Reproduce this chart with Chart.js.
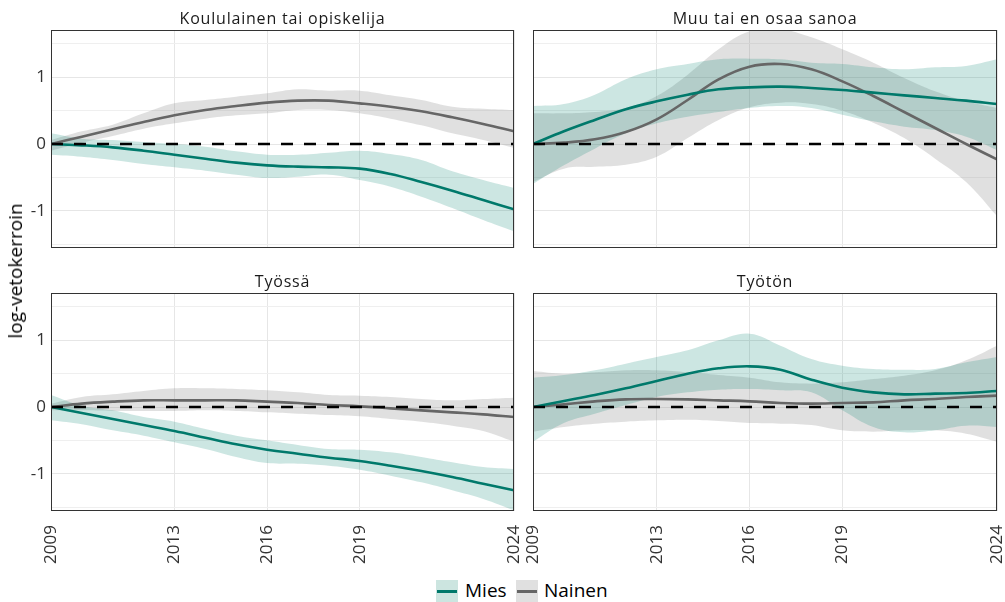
<!DOCTYPE html>
<html>
<head>
<meta charset="utf-8">
<script src="https://cdn.jsdelivr.net/npm/chart.js@4.4.1/dist/chart.umd.min.js"></script>
<style>
  body { margin: 0; background: #fff; overflow: hidden; font-family: 'Open Sans', sans-serif; }
  #wrap { position: relative; width: 1005px; height: 602px; }
  canvas { position: absolute; }
  .title { position: absolute; text-align: center; font-size: 16px; line-height: 20px; color: #1a1a1a; letter-spacing: 0.8px; }
  #ylab { position: absolute; left: 15px; top: 271px; transform: translate(-50%, -50%) rotate(-90deg); font-size: 19px; color: #000; white-space: nowrap; }
  .key { position: absolute; width: 22px; height: 22px; top: 580px; }
  .key span { position: absolute; left: 1px; right: 1px; top: 10px; height: 3px; }
  .ktext { position: absolute; top: 576px; font-size: 19px; line-height: 28px; color: #000; }
</style>
</head>
<body>
<div id="wrap">
  <canvas id="c1" width="520" height="262" style="left:0;top:0"></canvas>
  <canvas id="c2" width="495" height="262" style="left:520px;top:0"></canvas>
  <canvas id="c3" width="530" height="312" style="left:0;top:262px"></canvas>
  <canvas id="c4" width="495" height="312" style="left:520px;top:262px"></canvas>

  <div class="title" style="left:51px;width:463px;top:8px">Koululainen tai opiskelija</div>
  <div class="title" style="left:533px;width:464px;top:8px">Muu tai en osaa sanoa</div>
  <div class="title" style="left:51px;width:463px;top:271px">Työssä</div>
  <div class="title" style="left:533px;width:464px;top:271px">Työtön</div>
  <div id="ylab">log-vetokerroin</div>

  <div class="key" style="left:436px;background:#cce5e0"><span style="background:#00796b"></span></div>
  <div class="ktext" style="left:465px">Mies</div>
  <div class="key" style="left:516px;background:#e0e0e0"><span style="background:#666"></span></div>
  <div class="ktext" style="left:544px">Nainen</div>
</div>
<script>
const years = [2009,2010,2011,2012,2013,2014,2015,2016,2017,2018,2019,2020,2021,2022,2023,2024];
const xTicks = [2009, 2013, 2016, 2019, 2024];
const yTicks = [-1.5, -1, -0.5, 0, 0.5, 1, 1.5];

// Koululainen tai opiskelija
const miesKoulu   = [0,-0.02,-0.05,-0.10,-0.16,-0.22,-0.28,-0.32,-0.34,-0.35,-0.37,-0.45,-0.57,-0.70,-0.84,-0.98];
const miesKouluHi = [0.16,0.08,0.06,0.03,0.0,-0.04,-0.11,-0.16,-0.16,-0.13,-0.10,-0.15,-0.24,-0.41,-0.54,-0.66];
const miesKouluLo = [-0.16,-0.19,-0.24,-0.30,-0.35,-0.40,-0.46,-0.51,-0.49,-0.46,-0.54,-0.64,-0.79,-0.96,-1.14,-1.31];
const naisKoulu   = [0,0.11,0.22,0.33,0.43,0.51,0.57,0.62,0.65,0.65,0.61,0.56,0.49,0.40,0.30,0.19];
const naisKouluHi = [0.06,0.19,0.29,0.46,0.61,0.66,0.71,0.76,0.82,0.80,0.80,0.73,0.66,0.56,0.53,0.51];
const naisKouluLo = [-0.1,0.02,0.12,0.23,0.31,0.38,0.43,0.46,0.51,0.51,0.46,0.38,0.28,0.16,0.06,-0.06];

// Muu tai en osaa sanoa
const miesMuu   = [0,0.19,0.36,0.52,0.64,0.74,0.82,0.85,0.86,0.84,0.81,0.77,0.73,0.69,0.65,0.60];
const miesMuuHi = [0.57,0.6,0.74,0.97,1.12,1.2,1.27,1.28,1.27,1.22,1.2,1.15,1.12,1.15,1.17,1.27];
const miesMuuLo = [-0.6,-0.32,-0.07,0.16,0.31,0.41,0.48,0.54,0.57,0.54,0.44,0.34,0.26,0.21,0.11,-0.09];
const naisMuu   = [0,0.02,0.07,0.18,0.37,0.66,0.97,1.16,1.2,1.12,0.94,0.72,0.48,0.24,0.0,-0.23];
const naisMuuHi = [0.46,0.46,0.48,0.54,0.72,1.04,1.42,1.69,1.72,1.6,1.42,1.22,0.99,0.79,0.64,0.54];
const naisMuuLo = [-0.57,-0.37,-0.34,-0.31,-0.19,0.09,0.36,0.55,0.62,0.6,0.5,0.32,0.09,-0.22,-0.57,-1.08];

// Työssä
const miesTyo   = [0,-0.09,-0.18,-0.27,-0.36,-0.46,-0.56,-0.64,-0.70,-0.76,-0.81,-0.88,-0.96,-1.05,-1.15,-1.25];
const miesTyoHi = [0.18,0.02,-0.05,-0.15,-0.22,-0.33,-0.43,-0.50,-0.57,-0.63,-0.64,-0.68,-0.75,-0.83,-0.90,-0.93];
const miesTyoLo = [-0.2,-0.26,-0.35,-0.43,-0.53,-0.63,-0.75,-0.84,-0.85,-0.88,-0.94,-1.03,-1.13,-1.25,-1.38,-1.55];
const naisTyo   = [0,0.05,0.08,0.10,0.10,0.10,0.10,0.08,0.06,0.03,0.01,-0.02,-0.05,-0.08,-0.11,-0.15];
const naisTyoHi = [0.05,0.15,0.19,0.24,0.28,0.28,0.27,0.25,0.22,0.18,0.17,0.15,0.12,0.10,0.12,0.14];
const naisTyoLo = [-0.05,-0.05,-0.06,-0.06,-0.06,-0.05,-0.06,-0.08,-0.10,-0.12,-0.14,-0.18,-0.22,-0.28,-0.36,-0.52];

// Työtön
const miesTyoton   = [0,0.09,0.18,0.28,0.39,0.5,0.58,0.61,0.56,0.41,0.29,0.22,0.19,0.2,0.21,0.24];
const miesTyotonHi = [0.44,0.48,0.55,0.65,0.75,0.85,1.0,1.1,0.92,0.72,0.62,0.57,0.56,0.57,0.67,0.75];
const miesTyotonLo = [-0.52,-0.24,-0.1,0.03,0.15,0.22,0.26,0.27,0.25,0.22,-0.05,-0.3,-0.38,-0.35,-0.28,-0.3];
const naisTyoton   = [0,0.04,0.085,0.115,0.12,0.115,0.1,0.085,0.06,0.05,0.06,0.07,0.1,0.12,0.15,0.17];
const naisTyotonHi = [0.54,0.5,0.52,0.55,0.55,0.52,0.48,0.44,0.37,0.35,0.37,0.42,0.47,0.55,0.7,0.92];
const naisTyotonLo = [-0.37,-0.3,-0.25,-0.22,-0.2,-0.19,-0.21,-0.24,-0.25,-0.27,-0.35,-0.37,-0.35,-0.35,-0.4,-0.52];

const miesColor = '#00796b';
const naisColor = '#666666';
const miesFill = 'rgba(0,128,110,0.2)';
const naisFill = 'rgba(130,130,130,0.25)';

function pts(arr){
    return years.map(function(y, i){ return {x: y, y: arr[i]}; });
}

// panel frame, drawn on top like panel.border
const panelBorder = {
    id: 'panelBorder',
    afterDatasetsDraw: function(chart){
        var a = chart.chartArea, ctx = chart.ctx;
        ctx.save();
        ctx.strokeStyle = '#333333';
        ctx.lineWidth = 1;
        ctx.strokeRect(Math.round(a.left) + 0.5, Math.round(a.top) + 0.5,
                       Math.round(a.right - a.left) - 1, Math.round(a.bottom - a.top) - 1);
        ctx.restore();
    }
};

function band(arr, fill, color){
    return {data: pts(arr), borderWidth: 0, borderColor: 'rgba(0,0,0,0)',
            fill: fill, backgroundColor: color, tension: 0.4};
}

function noPad(s){
    s.paddingLeft = 0; s.paddingRight = 0; s.paddingTop = 0; s.paddingBottom = 0;
}

function drawPanel(id, m, mHi, mLo, n, nHi, nLo, opt){
    var ctx = document.getElementById(id);
    new Chart(ctx, {
        type: 'line',
        data: {
            datasets: [
                {data: [{x: 2009, y: 0}, {x: 2024, y: 0}], borderColor: '#000', borderWidth: 2.6,
                 borderDash: [12, 11], borderCapStyle: 'butt', fill: false},
                {data: pts(m), borderColor: miesColor, borderWidth: 2.6, fill: false, tension: 0.4},
                {data: pts(n), borderColor: naisColor, borderWidth: 2.6, fill: false, tension: 0.4},
                band(mHi, '+1', miesFill),
                band(mLo, false, 'rgba(0,0,0,0)'),
                band(nHi, '+1', naisFill),
                band(nLo, false, 'rgba(0,0,0,0)')
            ]
        },
        options: {
            responsive: false,
            animation: false,
            devicePixelRatio: 1,
            layout: {autoPadding: false, padding: {top: opt.top, right: opt.right, left: 0, bottom: 0}},
            elements: {point: {radius: 0, hoverRadius: 0}},
            plugins: {legend: {display: false}, tooltip: {enabled: false},
                      filler: {drawTime: 'beforeDatasetsDraw'}},
            scales: {
                x: {
                    type: 'linear', min: 2009, max: 2024,
                    afterBuildTicks: function(s){ s.ticks = xTicks.map(function(v){ return {value: v}; }); },
                    afterFit: function(s){ s.height = opt.xh; noPad(s); },
                    border: {display: false},
                    grid: {color: '#e6e6e6', lineWidth: 1, drawTicks: false},
                    ticks: {display: opt.showX, autoSkip: false, minRotation: 90, maxRotation: 90, padding: 14,
                            color: '#333', font: {size: 17},
                            callback: function(v){ return String(v); }}
                },
                y: {
                    min: -1.56, max: 1.71,
                    afterBuildTicks: function(s){ s.ticks = yTicks.map(function(v){ return {value: v}; }); },
                    afterFit: function(s){ s.width = opt.yw; noPad(s); },
                    border: {display: false},
                    grid: {color: function(c){ return c.tick && Number.isInteger(c.tick.value) ? '#e6e6e6' : '#efefef'; },
                           lineWidth: 1, drawTicks: false},
                    ticks: {display: opt.showY, padding: 5, color: '#333', font: {size: 17},
                            callback: function(v){ return Number.isInteger(v) ? String(v) : ''; }}
                }
            }
        },
        plugins: [panelBorder]
    });
}

function drawAll(){
    Chart.defaults.font.family = "'Open Sans', sans-serif";
    drawPanel('c1', miesKoulu, miesKouluHi, miesKouluLo, naisKoulu, naisKouluHi, naisKouluLo,
              {top: 30, right: 6, xh: 14, yw: 51, showX: false, showY: true});
    drawPanel('c2', miesMuu, miesMuuHi, miesMuuLo, naisMuu, naisMuuHi, naisMuuLo,
              {top: 30, right: 18, xh: 14, yw: 13, showX: false, showY: false});
    drawPanel('c3', miesTyo, miesTyoHi, miesTyoLo, naisTyo, naisTyoHi, naisTyoLo,
              {top: 31, right: 16, xh: 63, yw: 51, showX: true, showY: true});
    drawPanel('c4', miesTyoton, miesTyotonHi, miesTyotonLo, naisTyoton, naisTyotonHi, naisTyotonLo,
              {top: 31, right: 18, xh: 63, yw: 13, showX: true, showY: false});
}

document.fonts.load("17px 'Open Sans'").then(drawAll, drawAll);
</script>
</body>
</html>
